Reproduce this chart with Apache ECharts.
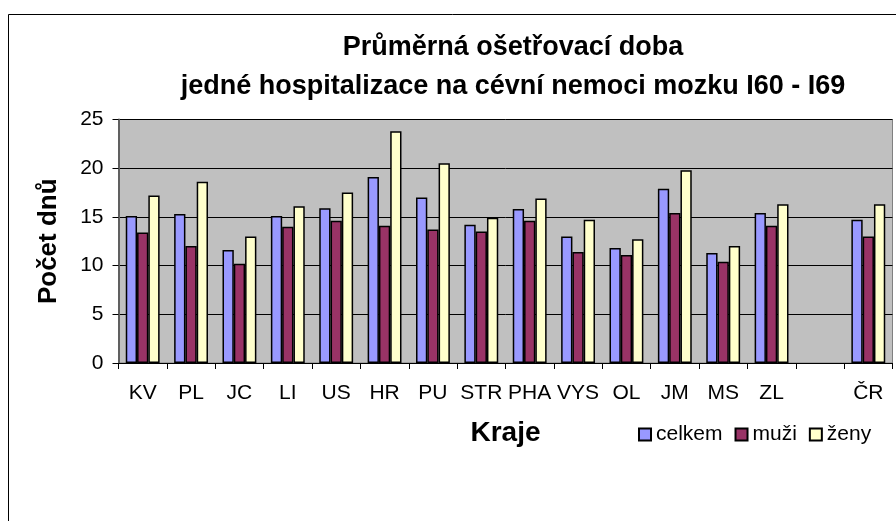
<!DOCTYPE html>
<html><head><meta charset="utf-8">
<script src="https://cdn.jsdelivr.net/npm/echarts@6/dist/echarts.min.js"></script>
<style>html,body{margin:0;padding:0;background:#fff}#c{width:896px;height:521px}</style>
</head><body><div id="c"></div>
<script>
const categories = ['KV','PL','JC','LI','US','HR','PU','STR','PHA','VYS','OL','JM','MS','ZL','','ČR'];
const celkem = [15.1,15.3,11.6,15.1,15.9,19.1,17.0,14.2,15.8,13.0,11.8,17.9,11.3,15.4,null,14.7];
const muzi   = [13.4,12.0,10.2,14.0,14.6,14.1,13.7,13.5,14.6,11.4,11.1,15.4,10.4,14.1,null,13.0];
const zeny   = [17.2,18.6,13.0,16.1,17.5,23.8,20.5,14.9,16.9,14.7,12.7,19.8,12.0,16.3,null,16.3];
const seriesNames = ['celkem','muži','ženy'];
const yTicks = [0,5,10,15,20,25];

const FONT = '"Liberation Sans", Arial, sans-serif';
const chart = echarts.init(document.getElementById('c'), null, {renderer:'canvas'});
const colors = ['#9999FF','#993366','#FFFFCC'];
const data = [celkem, muzi, zeny];
chart.setOption({
  animation:false,
  textStyle:{fontFamily:FONT},
  graphic:[
    {type:'rect', shape:{x:8.5,y:14.5,width:900,height:520}, style:{fill:'none',stroke:'#000',lineWidth:1}, z:-1},
    {type:'text', x:513, y:28, style:{text:'Průměrná ošetřovací doba\njedné hospitalizace na cévní nemoci mozku I60 - I69', fontSize:27, fontWeight:'bold', fontFamily:FONT, fill:'#000', align:'center', textAlign:'center', lineHeight:39}},
  ],
  legend:{
    data:seriesNames, left:633, top:419, itemWidth:12, itemHeight:12, itemGap:12,
    icon:'rect',
    textStyle:{fontSize:21, color:'#000', fontFamily:FONT, padding:[0,0,0,0]}
  },
  grid:{left:118.5, right:3.5, top:119.5, height:243.5, show:true, backgroundColor:'#C0C0C0', borderColor:'#808080', borderWidth:1},
  xAxis:{
    type:'category', data:categories, boundaryGap:true,
    name:'Kraje', nameLocation:'middle', nameGap:56,
    nameTextStyle:{fontSize:28, fontWeight:'bold', color:'#000', fontFamily:FONT},
    axisLine:{lineStyle:{color:'#000',width:1}},
    axisTick:{show:true, length:6, lineStyle:{color:'#000'}, alignWithLabel:false},
    axisLabel:{fontSize:21, color:'#000', margin:20, fontFamily:FONT, interval:0},
    splitLine:{show:false}
  },
  yAxis:{
    type:'value', min:yTicks[0], max:yTicks[yTicks.length-1], interval:5,
    name:'Počet dnů', nameLocation:'middle', nameGap:57,
    nameTextStyle:{fontSize:26, fontWeight:'bold', color:'#000', fontFamily:FONT},
    axisLine:{show:true, lineStyle:{color:'#606060', width:2}},
    axisTick:{show:true, length:6, lineStyle:{color:'#000'}},
    axisLabel:{fontSize:21, color:'#000', margin:15, fontFamily:FONT},
    splitLine:{show:true, lineStyle:{color:'#000', width:1}}
  },
  series: seriesNames.map((n,i)=>({
    name:n, type:'bar', data:data[i], barGap:'0%', barCategoryGap:'30%',
    itemStyle:{color:colors[i], borderColor:'#000', borderWidth:1.5}
  }))
});
</script></body></html>
